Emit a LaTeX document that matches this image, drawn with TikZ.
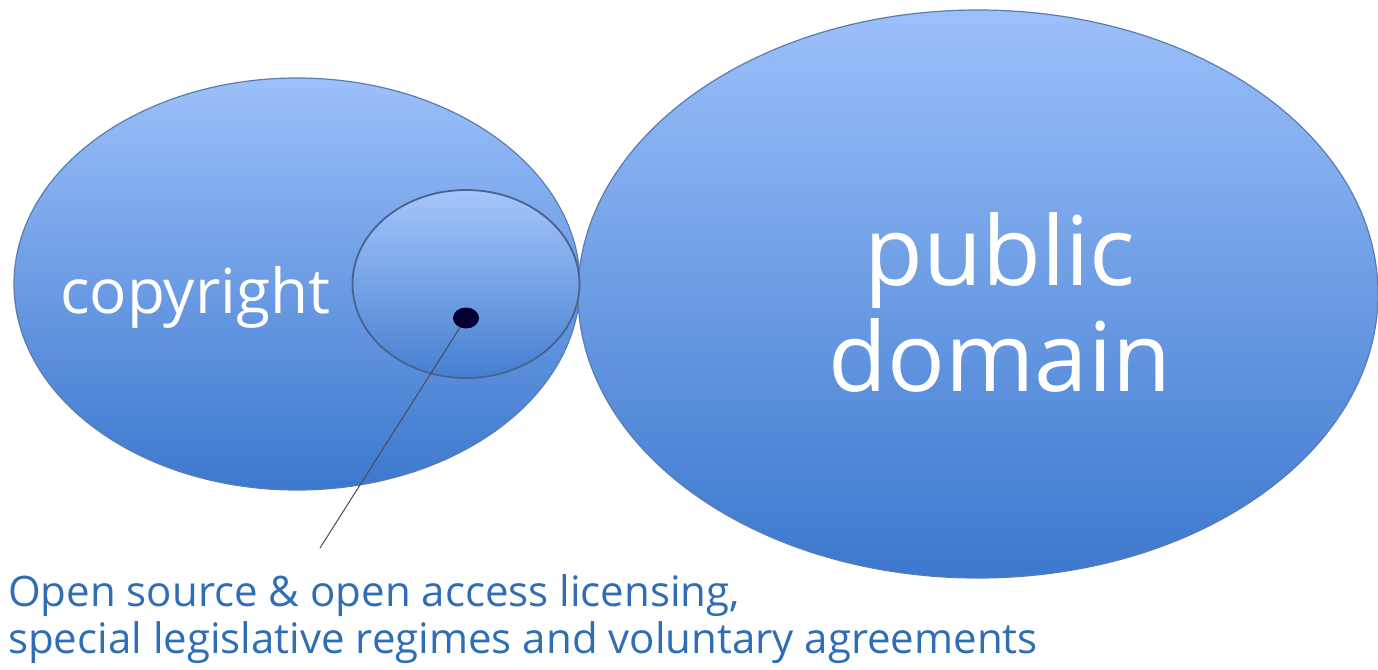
\documentclass[tikz,border=0pt]{standalone}
\usepackage{fontspec}
\setmainfont{Open Sans}
\usetikzlibrary{shapes.geometric}
\definecolor{topblue}{HTML}{9CC0FA}
\definecolor{botblue}{HTML}{3C78CE}
\definecolor{edgeblue}{HTML}{5A7DB0}
\definecolor{captionblue}{HTML}{2F6EB5}
\tikzset{
  blob/.style={ellipse, draw=edgeblue, line width=1.2pt, top color=topblue, bottom color=botblue, inner sep=0pt},
  inner/.style={ellipse, draw=edgeblue!80!black, line width=1.8pt, top color=topblue!90!white, bottom color=botblue!95!white, inner sep=0pt},
  whitelabel/.style={text=white, align=center, inner sep=0pt},
}
\begin{document}
\begin{tikzpicture}[x=1pt,y=-1pt]
\useasboundingbox (0,0) rectangle (1378,669);
\node[blob, minimum width=566pt, minimum height=412pt] (copy) at (297,284) {};
\node[blob, minimum width=800pt, minimum height=568pt] (pd) at (978,294) {};
\node[inner, minimum width=227pt, minimum height=188pt] (os) at (466,284) {};
\node[ellipse, fill=black!80!blue, minimum width=26pt, minimum height=21pt, inner sep=0pt] (dot) at (466,318) {};
\node[whitelabel, font=\fontsize{62}{68}\selectfont] (cl) at (195,297) {copyright};
\node[whitelabel, font=\fontsize{96}{106}\selectfont] (pl) at (1000,302) {public\\domain};
\coordinate (tail) at (320,548);
\draw[black!70, line width=1pt] (dot) -- (tail);
\node[anchor=north west, text=captionblue, align=left, inner sep=0pt, font=\fontsize{42}{47}\selectfont] (cap) at (8,574) {Open source \& open access licensing,\\special legislative regimes and voluntary agreements};
\end{tikzpicture}
\end{document}
